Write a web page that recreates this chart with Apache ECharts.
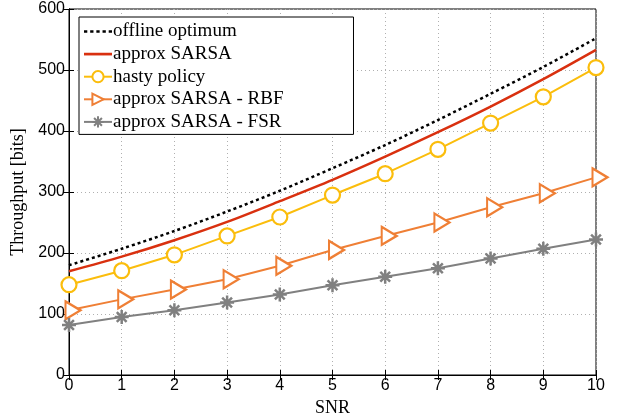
<!DOCTYPE html>
<html>
<head>
<meta charset="utf-8">
<script src="https://cdn.jsdelivr.net/npm/echarts@6/dist/echarts.min.js"></script>
<style>html,body{margin:0;padding:0;background:#fff}#c{width:621px;height:416px}</style>
</head>
<body>
<div id="c"></div>
<script>
var snr = [0,1,2,3,4,5,6,7,8,9,10];
var offlineOptimum = [180,207,236,268,302,339,377,418,461,505,552];
var approxSarsa = [170,194,221,251,285,320,358,398,440,485,533];
var hastyPolicy = [148,171,197,228,259,295,330,370,413,456,504];
var sarsaRBF = [106,124,140,157,179,205,228,250,275,298,324];
var sarsaFSR = [82,95,106,119,132,147,161,175,191,207,222];
var xTicks = [0,1,2,3,4,5,6,7,8,9,10];
var yTicks = [0,100,200,300,400,500,600];
var seriesNames = ['offline optimum','approx SARSA','hasty policy','approx SARSA - RBF','approx SARSA - FSR'];

function pairs(ys){ return snr.map(function(x,i){ return [x, ys[i]]; }); }

var serif = '"Liberation Serif","DejaVu Serif",serif';
var sans = '"Liberation Sans",Arial,sans-serif';
var tri = 'path://M0,0 L17,10 L0,20 Z';
var star = 'path://M10,0 L10,20 M0,10 L20,10 M3,3 L17,17 M3,17 L17,3';
var dashIcon = 'path://M0,0h3.2v2.6h-3.2z M6,0h3.2v2.6h-3.2z M12,0h3.2v2.6h-3.2z M18,0h3.2v2.6h-3.2z M24,0h3.2v2.6h-3.2z';
var solidIcon = 'path://M0,0h27v2.6h-27z';

var chart = echarts.init(document.getElementById('c'));
chart.setOption({
  animation: false,
  grid: {left: 69, right: 25, top: 9, bottom: 41, show: true, borderColor: '#000', borderWidth: 1,
         outerBoundsMode: 'none', containLabel: false},
  legend: {
    orient: 'vertical', left: 79, top: 17,
    backgroundColor: '#fff', borderColor: '#000', borderWidth: 1,
    padding: [5, 70, 3, 4], itemGap: 3.6, itemWidth: 28, itemHeight: 14,
    textStyle: {fontFamily: serif, fontSize: 19, color: '#000', padding: [0,0,0,-4]},
    data: [
      {name: seriesNames[0], icon: dashIcon},
      {name: seriesNames[1], icon: solidIcon},
      seriesNames[2], seriesNames[3], seriesNames[4]
    ]
  },
  xAxis: [{
    type: 'value', min: 0, max: 10, interval: 1,
    name: 'SNR', nameLocation: 'middle', nameGap: 19,
    nameTextStyle: {fontFamily: serif, fontSize: 18, color: '#000'},
    axisLine: {lineStyle: {color: '#000', width: 1}},
    axisTick: {inside: true, length: 5, lineStyle: {color: '#000'}},
    axisLabel: {fontFamily: sans, fontSize: 16, color: '#000', margin: 3,
      formatter: function(v){ return xTicks.indexOf(v) >= 0 ? String(v) : ''; }},
    splitLine: {show: true, lineStyle: {type: [1,3], color: '#b0b0b0'}}
  },{
    type: 'value', min: 0, max: 10, interval: 1, position: 'top',
    axisLine: {lineStyle: {color: '#000'}},
    axisTick: {inside: true, length: 5, lineStyle: {color: '#000'}},
    axisLabel: {show: false}, splitLine: {show: false}
  }],
  yAxis: [{
    type: 'value', min: 0, max: 600, interval: 100,
    name: 'Throughput [bits]', nameLocation: 'middle', nameGap: 40,
    nameTextStyle: {fontFamily: serif, fontSize: 18, color: '#000'},
    axisLine: {show: true, lineStyle: {color: '#000', width: 1}},
    axisTick: {show: true, inside: true, length: 5, lineStyle: {color: '#000'}},
    axisLabel: {fontFamily: sans, fontSize: 16, color: '#000', margin: 4,
      formatter: function(v){ return yTicks.indexOf(v) >= 0 ? String(v) : ''; }},
    splitLine: {show: true, lineStyle: {type: [1,3], color: '#b0b0b0'}}
  },{
    type: 'value', min: 0, max: 600, interval: 100, position: 'right',
    axisLine: {show: true, lineStyle: {color: '#000'}},
    axisTick: {show: true, inside: true, length: 5, lineStyle: {color: '#000'}},
    axisLabel: {show: false}, splitLine: {show: false}
  }],
  series: [
    {name: seriesNames[0], type: 'line', data: pairs(offlineOptimum), smooth: 0.3,
     showSymbol: false, symbol: 'none', symbolKeepAspect: true, z: 5,
     lineStyle: {color: '#000', width: 2.5, type: [3,3]}, itemStyle: {color: '#000'}},
    {name: seriesNames[1], type: 'line', data: pairs(approxSarsa), smooth: 0.3,
     showSymbol: false, symbol: 'none', symbolKeepAspect: true, z: 4,
     lineStyle: {color: '#d9300f', width: 2.5}, itemStyle: {color: '#d9300f'}},
    {name: seriesNames[2], type: 'line', data: pairs(hastyPolicy),
     symbol: 'circle', symbolSize: 15, z: 3,
     lineStyle: {color: '#fbbd0c', width: 2},
     itemStyle: {color: '#fff', borderColor: '#fbbd0c', borderWidth: 2.2}},
    {name: seriesNames[3], type: 'line', data: pairs(sarsaRBF),
     symbol: tri, symbolSize: [15, 18], symbolOffset: [4, 0], z: 3,
     lineStyle: {color: '#ef7f35', width: 2},
     itemStyle: {color: '#fff', borderColor: '#ef7f35', borderWidth: 2.2}},
    {name: seriesNames[4], type: 'line', data: pairs(sarsaFSR),
     symbol: star, symbolSize: 14, z: 3,
     lineStyle: {color: '#808080', width: 2},
     itemStyle: {color: '#808080', borderColor: '#808080', borderWidth: 2.5}}
  ]
});
</script>
</body>
</html>
